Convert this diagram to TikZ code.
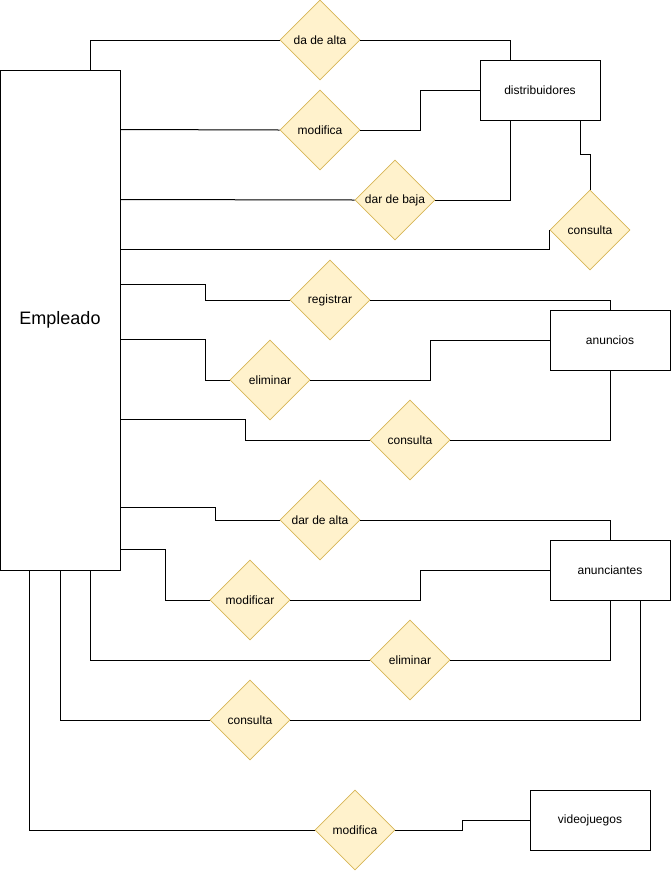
\documentclass[tikz,border=0pt]{standalone}
\usepackage{fontspec}
\setmainfont{Liberation Sans}
\usepackage{tikz}
\usepackage{xcolor}
\usetikzlibrary{shapes.geometric}
\definecolor{rel-fill}{HTML}{FFF2CC}
\definecolor{rel-draw}{HTML}{D6B656}
\tikzset{
    entity-box/.style = {draw=black, fill=white, line width=1pt, rectangle, minimum width=120pt, minimum height=60pt, inner sep=0pt, font=\fontsize{12}{14}\selectfont},
    rel-diamond/.style = {draw=rel-draw, fill=rel-fill, line width=0.8pt, diamond, aspect=1, minimum width=80pt, minimum height=80pt, inner sep=0pt, font=\fontsize{12}{14}\selectfont},
    link/.style = {draw=black, line width=1pt},
}

\begin{document}
\begin{tikzpicture}[x=1pt, y=-1pt]
\useasboundingbox (0,0) rectangle (671,871);
% entidades
\node [entity-box, minimum height=500pt, font=\fontsize{18}{21}\selectfont] (emp) at (60,320) {Empleado};
\node [entity-box] (dist) at (540,90) {distribuidores};
\node [entity-box] (anun) at (610,340) {anuncios};
\node [entity-box] (anc) at (610,570) {anunciantes};
\node [entity-box] (vid) at (590,820) {videojuegos};
% relaciones
\node [rel-diamond] (alta1) at (320,40) {da de alta};
\node [rel-diamond] (mod1) at (320,130) {modifica};
\node [rel-diamond] (baja) at (395,200) {dar de baja};
\node [rel-diamond] (cons1) at (590,230) {consulta};
\node [rel-diamond] (reg) at (330,300) {registrar};
\node [rel-diamond] (elim1) at (270,380) {eliminar};
\node [rel-diamond] (cons2) at (410,440) {consulta};
\node [rel-diamond] (alta2) at (320,520) {dar de alta};
\node [rel-diamond] (modf) at (250,600) {modificar};
\node [rel-diamond] (elim2) at (410,660) {eliminar};
\node [rel-diamond] (cons3) at (250,720) {consulta};
\node [rel-diamond] (mod2) at (355,830) {modifica};
% distribuidores
\draw [link] ([xshift=-30pt]emp.north east) |- (alta1.west);
\draw [link] (alta1.east) -| ([xshift=-30pt]dist.north);
\draw [link] ([yshift=-60pt]emp.north east) -- (mod1.west);
\draw [link] (mod1.east) -- ++(60,0) |- (dist.west);
\draw [link] ([yshift=-130pt]emp.north east) -- (baja.west);
\draw [link] (baja.east) -| ([xshift=-30pt]dist.south);
\draw [link] ([yshift=-180pt]emp.north east) -| (cons1.west);
\draw [link] (cons1.north) -- ++(0,-35) -| ([xshift=-20pt]dist.south east);
% anuncios
\draw [link] ([yshift=-215pt]emp.north east) -- ++(85,0) |- (reg.west);
\draw [link] (reg.east) -| (anun.north);
\draw [link] ([yshift=-270pt]emp.north east) -- ++(85,0) |- (elim1.west);
\draw [link] (elim1.east) -- ++(120,0) |- (anun.west);
\draw [link] ([yshift=-350pt]emp.north east) -- ++(125,0) |- (cons2.west);
\draw [link] (cons2.east) -| (anun.south);
% anunciantes
\draw [link] ([yshift=-438pt]emp.north east) -- ++(95,0) |- (alta2.west);
\draw [link] (alta2.east) -| (anc.north);
\draw [link] ([yshift=-480pt]emp.north east) -- ++(45,0) |- (modf.west);
\draw [link] (modf.east) -- ++(130,0) |- (anc.west);
\draw [link] ([xshift=-30pt]emp.south east) |- (elim2.west);
\draw [link] (elim2.east) -| (anc.south);
\draw [link] (emp.south) |- (cons3.west);
\draw [link] (cons3.east) -| ([xshift=-30pt]anc.south east);
% videojuegos
\draw [link] ([xshift=30pt]emp.south west) |- (mod2.west);
\draw [link] (mod2.east) -- ++(67,0) |- (vid.west);
\end{tikzpicture}
\end{document}
